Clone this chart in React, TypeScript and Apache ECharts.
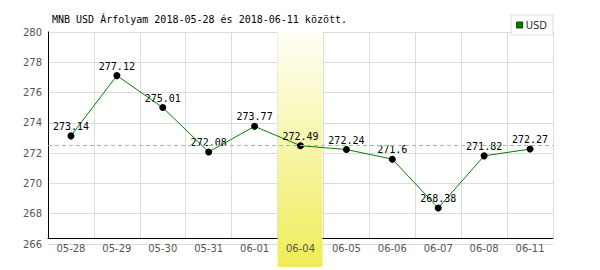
import React, { useEffect, useRef } from "react";
import * as echarts from "echarts";

const categories = ["05-28", "05-29", "05-30", "05-31", "06-01", "06-04", "06-05", "06-06", "06-07", "06-08", "06-11"];
const usdValues = [273.14, 277.12, 275.01, 272.08, 273.77, 272.49, 272.24, 271.6, 268.38, 271.82, 272.27];
const refLineValue = 272.49;
const highlightCategory = "06-04";
const yMin = 266;
const yMax = 280;
const yStep = 2;
const titleText = "MNB USD Árfolyam 2018-05-28 és 2018-06-11 között.";
const seriesName = "USD";

export default function App() {
  const ref = useRef<HTMLDivElement>(null);
  useEffect(() => {
    document.body.style.margin = "0";
    if (!ref.current) return;
    const chart = echarts.init(ref.current, null, { renderer: "svg" });
    const gridL = 48, gridR = 47, gridT = 32;
    chart.setOption({
      animation: false,
      backgroundColor: "#ffffff",
      title: {
        text: titleText,
        left: 52,
        top: 14,
        padding: 0,
        textStyle: { fontFamily: "DejaVu Sans Mono", fontSize: 10, fontWeight: "normal", color: "#000" },
      },
      legend: {
        right: 47,
        top: 15,
        padding: [5, 6, 5, 5],
        backgroundColor: "#fff",
        borderColor: "#dddddd",
        borderWidth: 1,
        itemWidth: 6,
        itemHeight: 6,
        itemGap: 4,
        textStyle: { fontFamily: "DejaVu Sans", fontSize: 10, color: "#333", padding: [0, 0, 0, -2] },
        data: [{ name: seriesName, icon: "rect", itemStyle: { color: "#008000", borderColor: "#004400", borderWidth: 1 } }],
      },
      grid: [
        { left: gridL, right: gridR, top: gridT, bottom: 26 },
        { left: gridL, right: gridR, top: gridT, bottom: 32 },
      ],
      xAxis: [
        {
          type: "category",
          gridIndex: 0,
          data: categories,
          boundaryGap: true,
          offset: -6,
          z: 5,
          axisLine: { show: false },
          axisTick: { show: false },
          splitLine: { show: false },
          axisLabel: { interval: 0, color: "#555", fontFamily: "DejaVu Sans", fontSize: 10, margin: 5 },
        },
        {
          type: "category",
          gridIndex: 1,
          data: categories,
          boundaryGap: true,
          axisLine: { show: true, lineStyle: { color: "#000", width: 1 } },
          axisTick: { show: false },
          axisLabel: { show: false },
          splitLine: { show: true, interval: 0, lineStyle: { color: "#dcdcdc", width: 1 } },
        },
      ],
      yAxis: [
        {
          type: "value",
          gridIndex: 0,
          min: yMin,
          max: yMax,
          interval: yStep,
          axisLine: { show: false },
          axisTick: { show: false },
          axisLabel: { color: "#555", fontFamily: "DejaVu Sans", fontSize: 10, margin: 6 },
          splitLine: { show: true, lineStyle: { color: "#dcdcdc", width: 1 } },
        },
        {
          type: "value",
          gridIndex: 1,
          min: 0,
          max: 1,
          axisLine: { show: true, lineStyle: { color: "#000", width: 1 } },
          axisTick: { show: false },
          axisLabel: { show: false },
          splitLine: { show: false },
        },
      ],
      series: [
        {
          name: seriesName,
          type: "line",
          xAxisIndex: 0,
          yAxisIndex: 0,
          data: usdValues,
          z: 3,
          symbol: "circle",
          symbolSize: 7,
          itemStyle: { color: "#000" },
          lineStyle: { color: "#008000", width: 1 },
          label: {
            show: true,
            position: "top",
            distance: 1,
            color: "#000",
            fontFamily: "DejaVu Sans Mono",
            fontSize: 10,
          },
          markLine: {
            silent: true,
            symbol: "none",
            label: { show: false },
            lineStyle: { color: "#99c299", type: [4, 3], width: 1 },
            data: [{ yAxis: refLineValue }],
          },
        },
      ],
    });
    const cx = chart.convertToPixel({ xAxisIndex: 0 }, highlightCategory) as number;
    const bw = (600 - gridL - gridR) / categories.length;
    const top = (chart.convertToPixel({ yAxisIndex: 0 }, yMax) as number) - 1;
    const bottom = 267;
    chart.setOption({
      graphic: [
        {
          type: "rect",
          z: 1,
          silent: true,
          shape: { x: cx - bw / 2, y: top, width: bw - 1, height: bottom - top },
          style: {
            fill: new echarts.graphic.LinearGradient(0, 0, 0, 1, [
              { offset: 0, color: "#fffff6" },
              { offset: 1, color: "#efec58" },
            ]),
          },
        },
      ],
    });
    return () => chart.dispose();
  }, []);
  return <div ref={ref} style={{ width: 600, height: 270 }} />;
}
